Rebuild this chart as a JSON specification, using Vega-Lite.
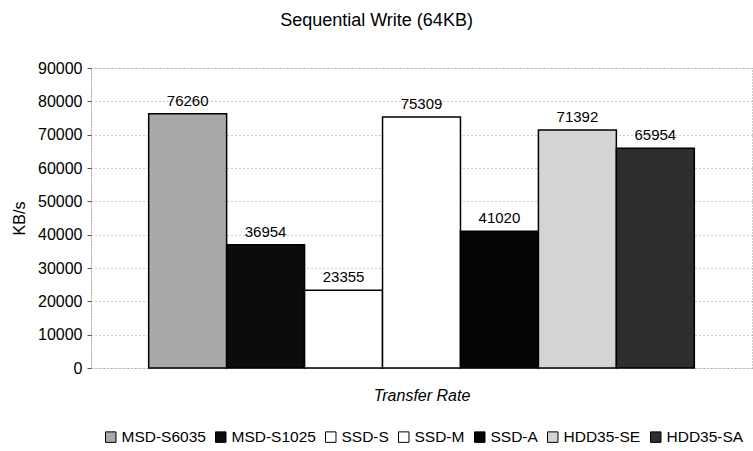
{
  "$schema": "https://vega.github.io/schema/vega-lite/v6.json",
  "width": 661,
  "height": 300,
  "autosize": "none",
  "padding": {"left": 91, "top": 68, "right": 1, "bottom": 83},
  "background": "white",
  "title": {"text": "Sequential Write (64KB)", "fontSize": 18, "font": "Liberation Sans", "fontWeight": "normal", "color": "#000", "offset": 30, "dx": -45},
  "config": {
    "font": "Liberation Sans",
    "view": {"stroke": "#9a9a9a", "strokeDash": [1, 2], "strokeWidth": 1}
  },
  "data": {"values": [
    {"s": "MSD-S6035", "v": 76260},
    {"s": "MSD-S1025", "v": 36954},
    {"s": "SSD-S", "v": 23355},
    {"s": "SSD-M", "v": 75309},
    {"s": "SSD-A", "v": 41020},
    {"s": "HDD35-SE", "v": 71392},
    {"s": "HDD35-SA", "v": 65954}
  ]},
  "encoding": {
    "x": {"field": "s", "type": "nominal", "sort": null,
      "scale": {"paddingInner": 0, "paddingOuter": 0.74},
      "axis": {"labels": false, "ticks": false, "domain": false, "title": "Transfer Rate", "titleFontStyle": "italic", "titleFontWeight": "normal", "titleFontSize": 16, "titlePadding": 19, "titleColor": "#000"}},
    "y": {"field": "v", "type": "quantitative",
      "scale": {"domain": [0, 90000], "nice": false},
      "axis": {"values": [0, 10000, 20000, 30000, 40000, 50000, 60000, 70000, 80000, 90000], "format": "d", "title": "KB/s", "titleFontWeight": "normal", "titleFontSize": 16, "titleColor": "#000", "titlePadding": 10,
        "labelFontSize": 16, "labelColor": "#000", "labelPadding": 5, "tickSize": 4, "tickColor": "#555", "domainColor": "#888", "domainDash": [1, 2],
        "grid": true, "gridColor": "#999", "gridDash": [1, 3], "gridWidth": 1}}
  },
  "layer": [
    {
      "mark": {"type": "bar", "stroke": "#000", "strokeWidth": 1.5},
      "encoding": {
        "color": {"field": "s", "type": "nominal", "sort": null,
          "scale": {"domain": ["MSD-S6035", "MSD-S1025", "SSD-S", "SSD-M", "SSD-A", "HDD35-SE", "HDD35-SA"],
                    "range": ["#a9a9a9", "#0c0c0c", "#ffffff", "#ffffff", "#050505", "#d4d4d4", "#2e2e2e"]},
          "legend": {"orient": "none", "legendX": 12, "legendY": 361, "direction": "horizontal", "title": null,
            "symbolType": "square", "symbolSize": 110, "symbolStrokeColor": "#000", "symbolStrokeWidth": 1,
            "labelFontSize": 15.5, "labelColor": "#000", "labelOffset": 3, "columnPadding": 7, "symbolOpacity": 1}}
      }
    },
    {
      "mark": {"type": "text", "baseline": "bottom", "dy": -5, "fontSize": 15, "color": "#000"},
      "encoding": {"text": {"field": "v", "type": "quantitative", "format": "d"}}
    }
  ]
}
